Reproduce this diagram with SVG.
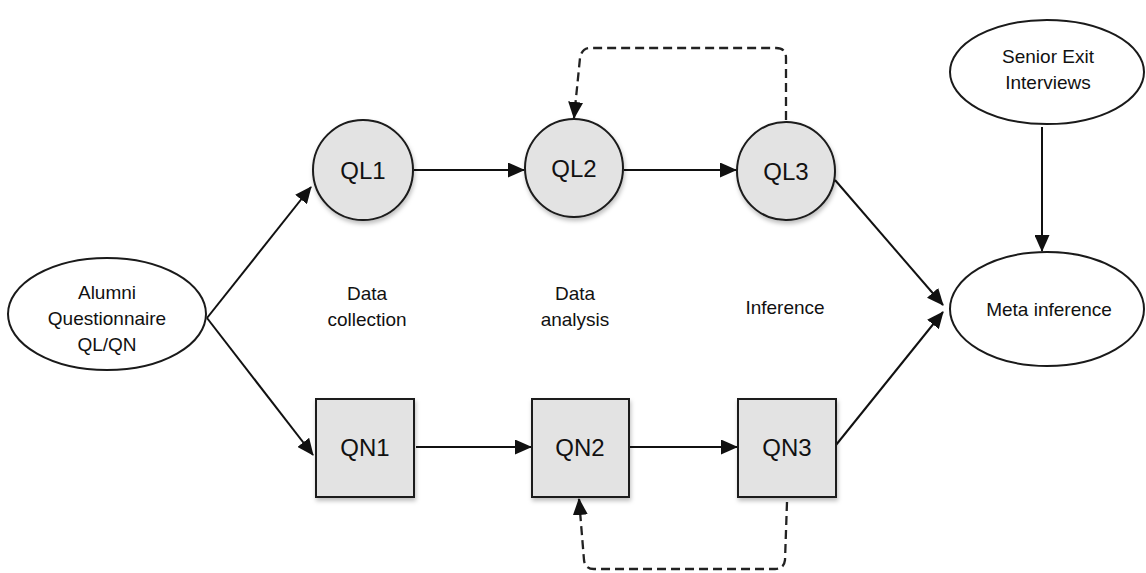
<svg xmlns="http://www.w3.org/2000/svg" width="1146" height="573" viewBox="0 0 1146 573">
<style>
.node{fill:#e3e3e3;stroke:#1a1a1a;stroke-width:2;filter:url(#sh)}
.oval{fill:#fff;stroke:#1a1a1a;stroke-width:2}
.big{font-family:"Liberation Sans",Arial,sans-serif;font-size:24px;fill:#111;text-anchor:middle}
.lbl{font-family:"Liberation Sans",Arial,sans-serif;font-size:19px;fill:#111;text-anchor:middle}
.ln{fill:none;stroke:#111;stroke-width:2}
.dash{fill:none;stroke:#222;stroke-width:2.3;stroke-dasharray:9 5}
</style>
<defs>
<marker id="ah" markerUnits="userSpaceOnUse" markerWidth="17" markerHeight="15" refX="16" refY="7.5" orient="auto">
<path d="M0,0 L17,7.5 L0,15 Z" fill="#111"/>
</marker>
<filter id="sh" x="-20%" y="-20%" width="150%" height="150%">
<feDropShadow dx="1" dy="3" stdDeviation="2" flood-color="#000" flood-opacity="0.25"/>
</filter>
</defs>
<g id="connectors">
<line class="ln" x1="207" y1="318" x2="311" y2="187" marker-end="url(#ah)"/>
<line class="ln" x1="207" y1="318" x2="313" y2="455" marker-end="url(#ah)"/>
<line class="ln" x1="414" y1="170" x2="524" y2="170" marker-end="url(#ah)"/>
<line class="ln" x1="624" y1="170" x2="736" y2="170" marker-end="url(#ah)"/>
<line class="ln" x1="416" y1="447" x2="531" y2="447" marker-end="url(#ah)"/>
<line class="ln" x1="630" y1="447" x2="737" y2="447" marker-end="url(#ah)"/>
<line class="ln" x1="835" y1="180" x2="943" y2="305" marker-end="url(#ah)"/>
<line class="ln" x1="836" y1="445" x2="943" y2="312" marker-end="url(#ah)"/>
<line class="ln" x1="1042" y1="127" x2="1042" y2="251" marker-end="url(#ah)"/>
<path class="dash" d="M786,120 L786,58 Q786,48 776,48 L590,48 Q582,48 580,58 L574,118" marker-end="url(#ah)"/>
<path class="dash" d="M787,502 L785,560 Q784,569 775,569 L594,569 Q585,569 584,560 L579,499" marker-end="url(#ah)"/>
</g>
<g id="alumni">
<ellipse class="oval" cx="107" cy="314" rx="99" ry="56"/>
<text class="lbl" x="107" y="299">Alumni</text>
<text class="lbl" x="107" y="325">Questionnaire</text>
<text class="lbl" x="107" y="351">QL/QN</text>
</g>
<g id="ql1">
<circle class="node" cx="363" cy="170" r="50"/>
<text class="big" x="363" y="179">QL1</text>
</g>
<g id="ql2">
<circle class="node" cx="574" cy="168" r="49"/>
<text class="big" x="574" y="177">QL2</text>
</g>
<g id="ql3">
<circle class="node" cx="786" cy="171" r="49"/>
<text class="big" x="786" y="180">QL3</text>
</g>
<g id="qn1">
<rect class="node" x="316" y="399" width="98" height="98"/>
<text class="big" x="365" y="456">QN1</text>
</g>
<g id="qn2">
<rect class="node" x="532" y="399" width="97" height="98"/>
<text class="big" x="580" y="456">QN2</text>
</g>
<g id="qn3">
<rect class="node" x="738" y="399" width="98" height="98"/>
<text class="big" x="787" y="456">QN3</text>
</g>
<g id="senior">
<ellipse class="oval" cx="1047" cy="72" rx="97" ry="52"/>
<text class="lbl" x="1048" y="63">Senior Exit</text>
<text class="lbl" x="1048" y="89">Interviews</text>
</g>
<g id="meta">
<ellipse class="oval" cx="1047" cy="309" rx="97" ry="57"/>
<text class="lbl" x="1049" y="316">Meta inference</text>
</g>
<g id="labels">
<text class="lbl" x="367" y="300">Data</text>
<text class="lbl" x="367" y="326">collection</text>
<text class="lbl" x="575" y="300">Data</text>
<text class="lbl" x="575" y="326">analysis</text>
<text class="lbl" x="785" y="314">Inference</text>
</g>
</svg>
